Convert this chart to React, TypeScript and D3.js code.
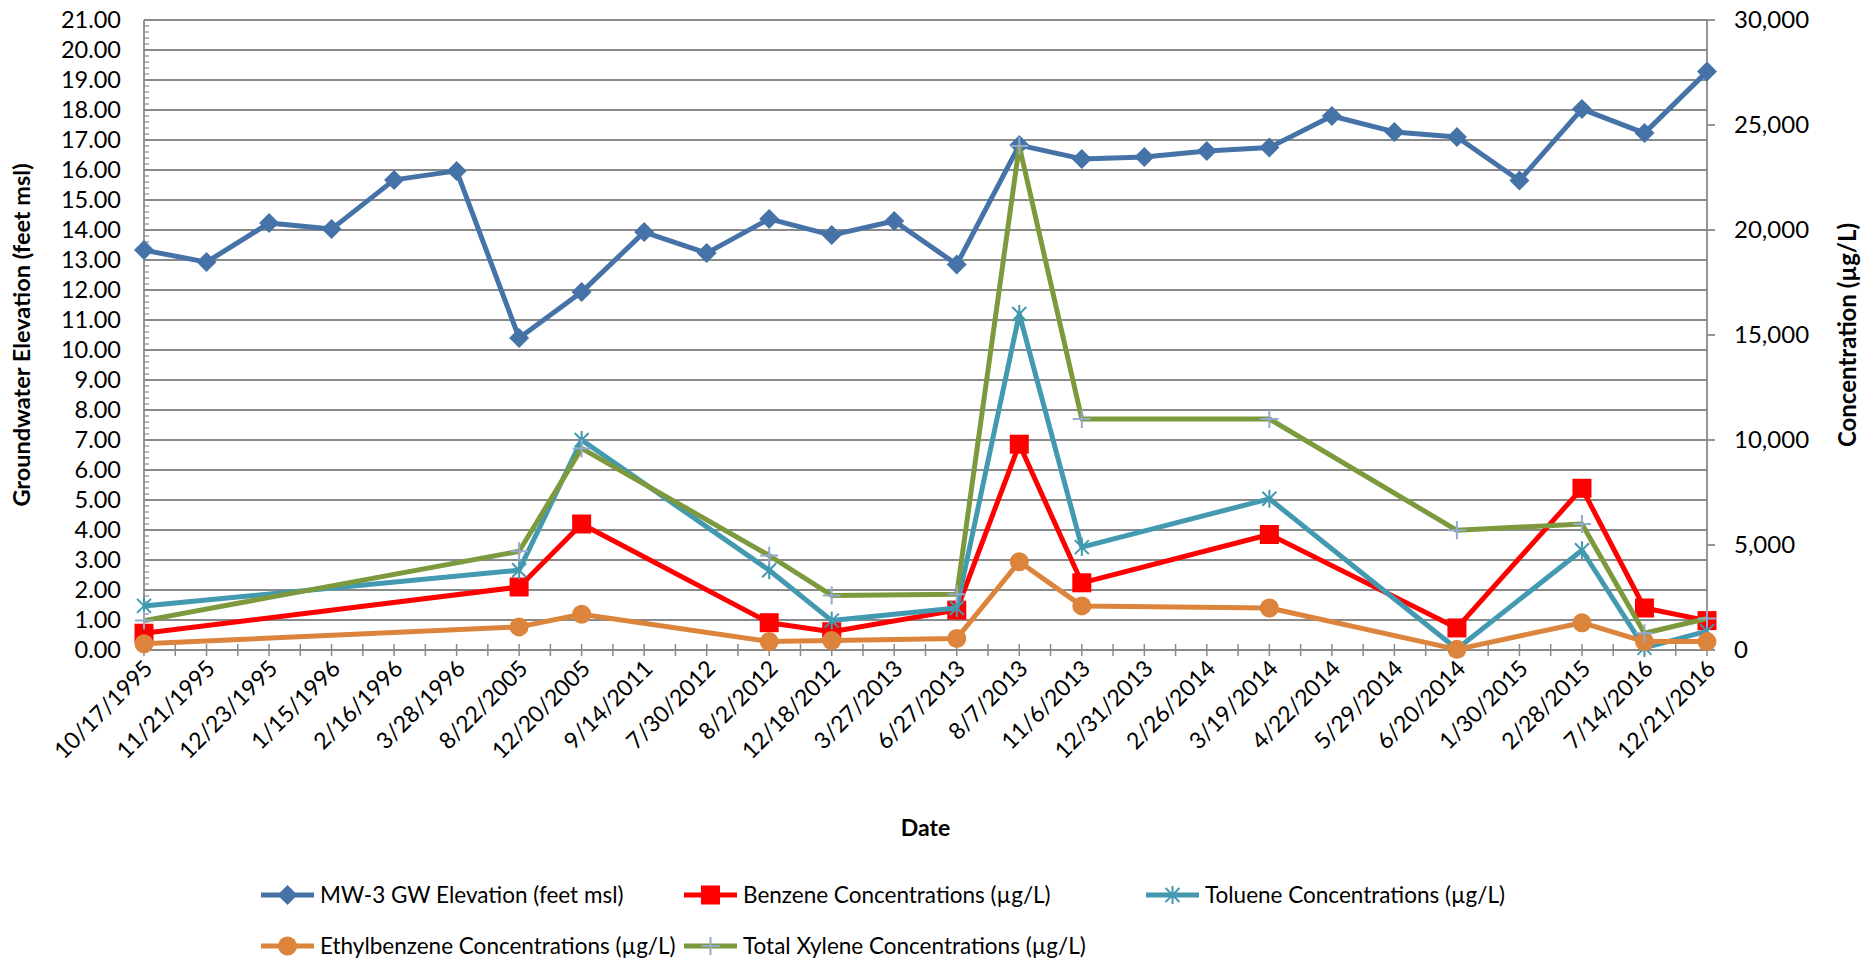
import React, { useEffect, useRef } from 'react';
import * as d3 from 'd3';

const dates = [
  '10/17/1995', '11/21/1995', '12/23/1995', '1/15/1996', '2/16/1996', '3/28/1996',
  '8/22/2005', '12/20/2005', '9/14/2011', '7/30/2012', '8/2/2012', '12/18/2012',
  '3/27/2013', '6/27/2013', '8/7/2013', '11/6/2013', '12/31/2013', '2/26/2014',
  '3/19/2014', '4/22/2014', '5/29/2014', '6/20/2014', '1/30/2015', '2/28/2015',
  '7/14/2016', '12/21/2016',
];

const gwElevation = [
  13.33, 12.93, 14.23, 14.03, 15.67, 15.97, 10.4, 11.93, 13.93, 13.23, 14.37, 13.83,
  14.3, 12.85, 16.83, 16.37, 16.43, 16.63, 16.75, 17.8, 17.27, 17.1, 15.65, 18.03,
  17.23, 19.28,
];

const benzene = [
  800, null, null, null, null, null, 3000, 6000, null, null, 1300, 870,
  null, 1900, 9800, 3200, null, null, 5500, null, null, 1050, null, 7700,
  2000, 1400,
];

const toluene = [
  2100, null, null, null, null, null, 3800, 10000, null, null, 3800, 1400,
  null, 2000, 16000, 4900, null, null, 7200, null, null, 50, null, 4750,
  100, 900,
];

const ethylbenzene = [
  300, null, null, null, null, null, 1100, 1700, null, null, 400, 450,
  null, 550, 4200, 2100, null, null, 2000, null, null, 30, null, 1300,
  400, 400,
];

const xylene = [
  1400, null, null, null, null, null, 4700, 9600, null, null, 4500, 2600,
  null, 2650, 24000, 11000, null, null, 11000, null, null, 5700, null, 6000,
  800, 1500,
];

const leftTicks = [0, 1, 2, 3, 4, 5, 6, 7, 8, 9, 10, 11, 12, 13, 14, 15, 16, 17, 18, 19, 20, 21];
const rightTicks = [0, 5000, 10000, 15000, 20000, 25000, 30000];

const W = 1876;
const H = 964;
const L = 144;
const R = 1707;
const T = 20;
const B = 650;
const FONT = 'Lato, "Open Sans", sans-serif';
const GRID = '#8a8a8a';

type Marker = 'diamond' | 'square' | 'star' | 'circle' | 'plus';

const series = [
  { name: 'MW-3 GW Elevation (feet msl)', values: gwElevation, axis: 'left', color: '#4572a7', marker: 'diamond' as Marker },
  { name: 'Benzene Concentrations (µg/L)', values: benzene, axis: 'right', color: '#ff0000', marker: 'square' as Marker },
  { name: 'Toluene Concentrations (µg/L)', values: toluene, axis: 'right', color: '#4299b0', marker: 'star' as Marker },
  { name: 'Ethylbenzene Concentrations (µg/L)', values: ethylbenzene, axis: 'right', color: '#dc843c', marker: 'circle' as Marker },
  { name: 'Total Xylene Concentrations (µg/L)', values: xylene, axis: 'right', color: '#7c9a3d', marker: 'plus' as Marker },
];

// draws one marker centred at (cx, cy)
function drawMarker(g: any, type: Marker, color: string, cx: number, cy: number) {
  const m = g.append('g').attr('transform', `translate(${cx},${cy})`);
  if (type === 'diamond') {
    m.append('path').attr('d', 'M0,-10L10,0L0,10L-10,0Z').attr('fill', color);
  } else if (type === 'square') {
    m.append('rect').attr('x', -9.5).attr('y', -9.5).attr('width', 19).attr('height', 19).attr('fill', color);
  } else if (type === 'circle') {
    m.append('circle').attr('r', 9.5).attr('fill', color);
  } else if (type === 'star') {
    m.append('path')
      .attr('d', 'M-7,-7L7,7M-7,7L7,-7M0,-9L0,9')
      .attr('stroke', color).attr('stroke-width', 2).attr('fill', 'none');
  } else {
    m.append('path')
      .attr('d', 'M-9,0L9,0M0,-9L0,9')
      .attr('stroke', '#93a9cf').attr('stroke-width', 2).attr('fill', 'none');
  }
}

const App: React.FC = () => {
  const svgRef = useRef<SVGSVGElement>(null);

  useEffect(() => {
    if (!svgRef.current) return;
    document.body.style.margin = '0';
    document.body.style.overflow = 'hidden';

    const svg = d3.select(svgRef.current);
    svg.selectAll('*').remove();

    const x = d3.scalePoint<string>().domain(dates).range([L, R]);
    const yLeft = d3.scaleLinear().domain([0, 21]).range([B, T]);
    const yRight = d3.scaleLinear().domain([0, 30000]).range([B, T]);

    svg.append('rect').attr('width', W).attr('height', H).attr('fill', '#fff');

    // gridlines
    svg.append('g')
      .selectAll('line')
      .data(leftTicks.filter(d => d > 0))
      .enter()
      .append('line')
      .attr('x1', L).attr('x2', R)
      .attr('y1', d => yLeft(d)).attr('y2', d => yLeft(d))
      .attr('stroke', GRID).attr('stroke-width', 1.8);

    // left axis
    const left = svg.append('g');
    left.append('line').attr('x1', L).attr('x2', L).attr('y1', T).attr('y2', B)
      .attr('stroke', GRID).attr('stroke-width', 1.8);
    const minor = d3.range(0, 21.001, 0.2);
    left.selectAll('line.minor')
      .data(minor)
      .enter()
      .append('line')
      .attr('class', 'minor')
      .attr('x1', L).attr('x2', L + 5)
      .attr('y1', d => yLeft(d)).attr('y2', d => yLeft(d))
      .attr('stroke', GRID).attr('stroke-width', 1.2);
    left.selectAll('text')
      .data(leftTicks)
      .enter()
      .append('text')
      .attr('x', L - 23)
      .attr('y', d => yLeft(d))
      .attr('dy', '0.35em')
      .attr('text-anchor', 'end')
      .style('font-family', FONT).style('font-size', '23.5px').attr('fill', '#000')
      .text(d => d3.format('.2f')(d));

    // right axis
    const right = svg.append('g');
    right.append('line').attr('x1', R).attr('x2', R).attr('y1', T).attr('y2', B)
      .attr('stroke', GRID).attr('stroke-width', 1.8);
    right.selectAll('line.tick')
      .data(rightTicks)
      .enter()
      .append('line')
      .attr('class', 'tick')
      .attr('x1', R).attr('x2', R + 8)
      .attr('y1', d => yRight(d)).attr('y2', d => yRight(d))
      .attr('stroke', GRID).attr('stroke-width', 1.8);
    right.selectAll('text')
      .data(rightTicks)
      .enter()
      .append('text')
      .attr('x', R + 27)
      .attr('y', d => yRight(d))
      .attr('dy', '0.35em')
      .style('font-family', FONT).style('font-size', '24px').attr('fill', '#000')
      .text(d => d3.format(',')(d));

    // bottom axis
    const bottom = svg.append('g');
    bottom.append('line').attr('x1', L).attr('x2', R).attr('y1', B).attr('y2', B)
      .attr('stroke', GRID).attr('stroke-width', 1.8);
    const half = x.step() / 2;
    const tickXs = d3.range(0, dates.length * 2 - 1).map(i => L + i * half);
    bottom.selectAll('line.tick')
      .data(tickXs)
      .enter()
      .append('line')
      .attr('class', 'tick')
      .attr('x1', d => d).attr('x2', d => d)
      .attr('y1', B - 6).attr('y2', B + 6)
      .attr('stroke', GRID).attr('stroke-width', 1.5);
    bottom.selectAll('text')
      .data(dates)
      .enter()
      .append('text')
      .attr('transform', d => `translate(${(x(d) || 0) + 10},${B + 20}) rotate(-45)`)
      .attr('text-anchor', 'end')
      .style('font-family', FONT).style('font-size', '23px').attr('fill', '#000')
      .text(d => d);

    // axis titles
    svg.append('text')
      .attr('transform', `translate(30,${(T + B) / 2}) rotate(-90)`)
      .attr('text-anchor', 'middle')
      .style('font-family', FONT).style('font-size', '23.5px').style('font-weight', 'bold')
      .text('Groundwater Elevation (feet msl)');
    svg.append('text')
      .attr('transform', `translate(1856,${(T + B) / 2}) rotate(-90)`)
      .attr('text-anchor', 'middle')
      .style('font-family', FONT).style('font-size', '24px').style('font-weight', 'bold')
      .text('Concentration (µg/L)');
    svg.append('text')
      .attr('x', (L + R) / 2)
      .attr('y', 836)
      .attr('text-anchor', 'middle')
      .style('font-family', FONT).style('font-size', '23px').style('font-weight', 'bold')
      .text('Date');

    // series
    series.forEach(s => {
      const y = s.axis === 'left' ? yLeft : yRight;
      const pts = dates
        .map((d, i) => ({ d, v: s.values[i] }))
        .filter(p => p.v !== null && p.v !== undefined) as { d: string; v: number }[];
      const line = d3.line<{ d: string; v: number }>()
        .x(p => x(p.d) || 0)
        .y(p => y(p.v));
      const g = svg.append('g');
      g.append('path')
        .attr('d', line(pts) || '')
        .attr('fill', 'none')
        .attr('stroke', s.color)
        .attr('stroke-width', 5)
        .attr('stroke-linejoin', 'round');
      pts.forEach(p => drawMarker(g, s.marker, s.color, x(p.d) || 0, y(p.v)));
    });

    // legend
    const legendPos = [
      { x: 261, y: 895 }, { x: 684, y: 895 }, { x: 1146, y: 895 },
      { x: 261, y: 946 }, { x: 684, y: 946 },
    ];
    series.forEach((s, i) => {
      const p = legendPos[i];
      const g = svg.append('g');
      g.append('line')
        .attr('x1', p.x).attr('x2', p.x + 53)
        .attr('y1', p.y).attr('y2', p.y)
        .attr('stroke', s.color).attr('stroke-width', 5);
      drawMarker(g, s.marker, s.color, p.x + 26.5, p.y);
      g.append('text')
        .attr('x', p.x + 59)
        .attr('y', p.y)
        .attr('dy', '0.35em')
        .style('font-family', FONT).style('font-size', '22.5px').attr('fill', '#000')
        .text(s.name);
    });
  }, []);

  return <svg ref={svgRef} width={W} height={H} style={{ display: 'block' }} />;
};

export default App;
